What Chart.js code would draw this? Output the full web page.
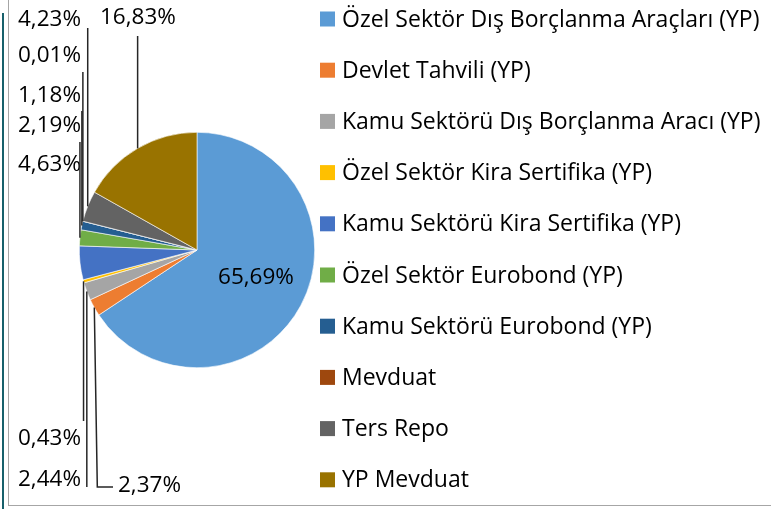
<!DOCTYPE html>
<html>
<head>
<meta charset="utf-8">
<script src="https://cdn.jsdelivr.net/npm/chart.js@4"></script>
<style>
  html, body { margin: 0; padding: 0; background: #fff; }
  #wrap { position: relative; width: 771px; height: 509px; overflow: hidden; }
  #frame { position: absolute; left: 8px; top: 0; width: 763px; height: 506px;
           border-left: 1px solid #a6a6a6; border-bottom: 1px solid #a6a6a6; box-sizing: border-box; }
  #edge { position: absolute; left: 2px; top: 13px; width: 2px; height: 496px; background: #17606b; }
  canvas { position: absolute; left: 0; top: 0; }
</style>
</head>
<body>
<div id="wrap">
  <div id="edge"></div>
  <div id="frame"></div>
  <canvas id="chart" width="771" height="509"></canvas>
</div>
<script>
// categories and shares (%)
const categories = [
  'Özel Sektör Dış Borçlanma Araçları (YP)',
  'Devlet Tahvili (YP)',
  'Kamu Sektörü Dış Borçlanma Aracı (YP)',
  'Özel Sektör Kira Sertifika (YP)',
  'Kamu Sektörü Kira Sertifika (YP)',
  'Özel Sektör Eurobond (YP)',
  'Kamu Sektörü Eurobond (YP)',
  'Mevduat',
  'Ters Repo',
  'YP Mevduat'
];
const shares = [65.69, 2.37, 2.44, 0.43, 4.63, 2.19, 1.18, 0.01, 4.23, 16.83];
const colors = ['#5b9bd5', '#ed7d31', '#a5a5a5', '#ffc000', '#4472c4',
                '#70ad47', '#255e91', '#9e480e', '#636363', '#997300'];

// where each data label sits (left x, middle y) and where its leader ends
const labelLayout = [
  { x: 256, y: 278, align: 'center' },
  { x: 118, y: 486, leaderTo: 487, elbow: 113 },
  { x: 18, y: 480, leaderTo: 487 },
  { x: 18, y: 439, leaderTo: 421 },
  { x: 18, y: 165 },
  { x: 18, y: 126, leaderTo: 142 },
  { x: 18, y: 96, leaderTo: 111 },
  { x: 18, y: 56, leaderTo: 72 },
  { x: 18, y: 20, leaderTo: 28 },
  { x: 100, y: 18, leaderTo: 36 }
];

const FONT = '"Open Sans", "Noto Sans", sans-serif';

const fmt = v => v.toFixed(2).replace('.', ',') + '%';

const pieLabels = {
  id: 'pieLabels',
  afterDatasetsDraw(chart) {
    const ctx = chart.ctx;
    const arcs = chart.getDatasetMeta(0).data;
    ctx.save();
    arcs.forEach((arc, i) => {
      const L = labelLayout[i];
      const p = arc.getProps(['x', 'y', 'startAngle', 'endAngle', 'outerRadius'], true);
      const mid = (p.startAngle + p.endAngle) / 2;
      const ax = p.x + Math.cos(mid) * p.outerRadius;
      const ay = p.y + Math.sin(mid) * p.outerRadius;
      if (L.leaderTo !== undefined) {
        ctx.strokeStyle = '#262626';
        ctx.lineWidth = 1.5;
        ctx.beginPath();
        ctx.moveTo(ax, ay);
        if (L.elbow !== undefined) {
          ctx.lineTo(ax + 3, L.leaderTo);
          ctx.lineTo(L.elbow, L.leaderTo);
        } else {
          ctx.lineTo(ax, L.leaderTo);
        }
        ctx.stroke();
      }
      ctx.fillStyle = '#000';
      ctx.font = '22.5px ' + FONT;
      ctx.textBaseline = 'middle';
      ctx.textAlign = L.align || 'left';
      ctx.fillText(fmt(shares[i]), L.x, L.y);
    });
    ctx.restore();
  }
};

// legend drawn on the canvas to the right of the pie
const sideLegend = {
  id: 'sideLegend',
  afterDraw(chart) {
    const ctx = chart.ctx;
    const x0 = 320, y0 = 19, step = 51.2;
    ctx.save();
    ctx.font = '23px ' + FONT;
    ctx.textBaseline = 'middle';
    ctx.textAlign = 'left';
    chart.data.labels.forEach((lab, i) => {
      const y = y0 + i * step;
      ctx.fillStyle = chart.data.datasets[0].backgroundColor[i];
      ctx.fillRect(x0, y - 7.5, 15, 15);
      ctx.fillStyle = '#000';
      ctx.fillText(lab, x0 + 22, y + 1);
    });
    ctx.restore();
  }
};

new Chart(document.getElementById('chart'), {
  type: 'pie',
  data: {
    labels: categories,
    datasets: [{
      data: shares,
      backgroundColor: colors,
      borderColor: '#ffffff',
      borderWidth: 0.6
    }]
  },
  options: {
    responsive: false,
    animation: false,
    layout: { padding: { left: 79, right: 456, top: 132, bottom: 141 } },
    plugins: {
      legend: { display: false },
      tooltip: { enabled: false }
    }
  },
  plugins: [pieLabels, sideLegend]
});
</script>
</body>
</html>
